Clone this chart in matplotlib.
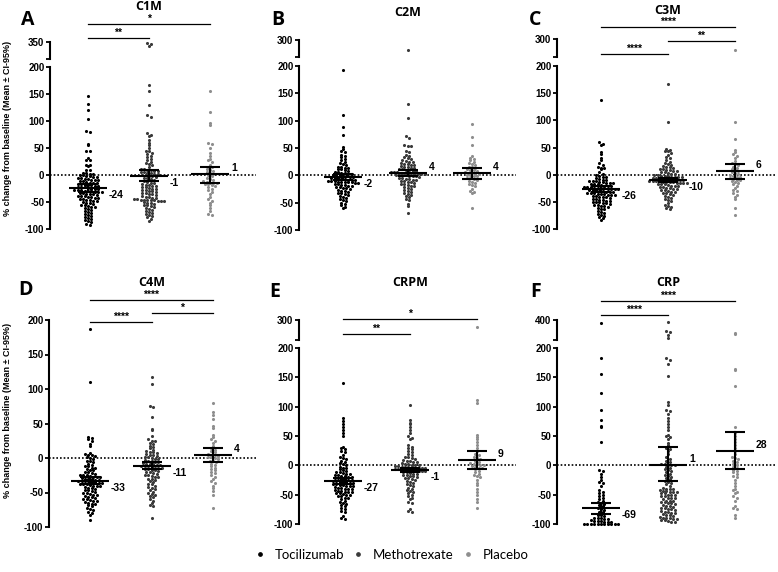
import numpy as np
import matplotlib
matplotlib.use('Agg')
import matplotlib.pyplot as plt
from matplotlib.lines import Line2D

W, H = 778, 572

groups = ['Tocilizumab', 'Methotrexate', 'Placebo']
colors = ['#000000', '#3a3a3a', '#8e8e8e']
titles = ['C1M', 'C2M', 'C3M', 'C4M', 'CRPM', 'CRP']
letters = ['A', 'B', 'C', 'D', 'E', 'F']
ylab = '% change from baseline (Mean \u00b1 CI-95%)'

# ---- % change values, one list per group ----
c1m_toc = [146, 131, 121, 103, 81, 79, 57, 56, 45, 44, 32, 28, 27, 19, 18, 16, 10, 9, 4, 3, 2, 1, 0, 0,
           -1, -2, -3, -4, -5, -6, -7, -8, -9, -10, -10, -11, -12, -13, -14, -14, -15, -16, -17, -18,
           -18, -19, -20, -21, -22, -22, -23, -24, -25, -25, -26, -27, -28, -28, -29, -30, -30, -31,
           -32, -32, -33, -34, -35, -35, -36, -37, -38, -38, -39, -40, -41, -42, -43, -44, -45, -46,
           -47, -48, -49, -50, -51, -52, -54, -55, -56, -58, -59, -60, -62, -63, -64, -66, -68, -70,
           -72, -74, -75, -77, -79, -81, -83, -85, -87, -90, -92]
c1m_mtx = [342, 339, 328, 166, 156, 130, 112, 108, 77, 75, 72, 64, 60, 55, 50, 45, 44, 41, 38, 35, 33,
           30, 28, 25, 22, 20, 18, 15, 12, 11, 10, 9, 8, 7, 6, 5, 4, 3, 2, 1, 0, 0, -1, -2, -3, -5, -6,
           -8, -10, -12, -13, -14, -15, -16, -18, -19, -20, -21, -22, -23, -24, -25, -26, -27, -28,
           -29, -30, -32, -33, -34, -35, -36, -37, -38, -40, -41, -42, -43, -44, -45, -46, -46, -47,
           -47, -47, -48, -48, -49, -50, -51, -52, -53, -55, -56, -58, -60, -62, -63, -65, -66, -68,
           -70, -72, -74, -76, -78, -81, -85]
c1m_pla = [155, 117, 97, 92, 60, 57, 50, 40, 35, 30, 27, 24, 18, 15, 14, 12, 10, 8, 5, 3, 1, 0, -2,
           -5, -8, -10, -12, -13, -14, -15, -15, -16, -17, -18, -20, -22, -25, -28, -32, -36, -40,
           -45, -48, -52, -55, -62, -66, -72, -74]

c2m_toc = [193, 110, 88, 73, 52, 48, 45, 42, 38, 35, 33, 30, 28, 25, 22, 20, 18, 16, 15, 14, 13, 12,
           11, 10, 8, 7, 6, 5, 4, 3, 2, 1, 0, 0, -1, -2, -3, -3, -4, -5, -5, -6, -7, -8, -8, -9, -10,
           -10, -11, -12, -12, -12, -13, -13, -14, -14, -15, -16, -17, -18, -19, -20, -21, -22, -23,
           -24, -25, -26, -28, -29, -30, -32, -33, -35, -36, -38, -40, -42, -44, -45, -47, -50, -52,
           -55, -58, -60]
c2m_mtx = [270, 131, 104, 72, 68, 55, 54, 53, 45, 42, 38, 36, 34, 32, 30, 28, 26, 25, 24, 22, 21, 20,
           19, 18, 17, 16, 15, 14, 13, 12, 11, 10, 9, 8, 8, 7, 6, 6, 5, 5, 4, 4, 3, 3, 2, 2, 1, 1, 0,
           0, -1, -2, -2, -3, -4, -5, -6, -7, -8, -9, -10, -11, -12, -13, -14, -15, -16, -18, -19,
           -20, -22, -24, -25, -27, -28, -30, -32, -34, -36, -38, -40, -43, -46, -52, -56, -68]
c2m_pla = [94, 70, 55, 35, 32, 30, 28, 25, 22, 20, 18, 16, 15, 14, 12, 10, 9, 8, 6, 5, 4, 3, 2, 1, 0,
           -1, -2, -4, -5, -6, -8, -10, -12, -14, -16, -18, -20, -25, -28, -30, -32, -60]

c3m_toc = [137, 61, 57, 54, 42, 38, 30, 27, 22, 17, 15, 13, 13, 10, 5, 2, 0, -2, -4, -5, -6, -8, -9,
           -10, -11, -12, -12, -13, -14, -15, -15, -16, -17, -18, -18, -19, -20, -20, -21, -22, -22,
           -23, -24, -24, -25, -25, -26, -26, -27, -27, -28, -28, -29, -30, -30, -31, -32, -32, -33,
           -34, -34, -35, -36, -36, -37, -38, -38, -39, -40, -41, -42, -42, -43, -44, -45, -46, -47,
           -48, -49, -50, -50, -51, -52, -53, -54, -55, -56, -57, -58, -60, -62, -63, -64, -66, -68,
           -70, -72, -74, -76, -78, -80, -83]
c3m_mtx = [167, 97, 47, 45, 44, 43, 40, 36, 33, 30, 27, 24, 22, 20, 18, 16, 15, 14, 12, 11, 10, 9, 8,
           7, 6, 5, 4, 3, 2, 1, 0, -1, -2, -2, -3, -4, -4, -5, -5, -6, -6, -7, -7, -8, -8, -9, -9,
           -10, -10, -11, -11, -12, -12, -13, -13, -14, -14, -15, -15, -16, -16, -17, -18, -18, -19,
           -20, -20, -21, -22, -23, -24, -25, -26, -27, -28, -29, -30, -31, -32, -33, -34, -35, -37,
           -39, -41, -43, -45, -47, -49, -52, -55, -58, -60, -62, -64]
c3m_pla = [270, 97, 65, 45, 42, 38, 35, 30, 25, 22, 20, 18, 15, 12, 10, 8, 6, 5, 3, 2, 0, -2, -4, -5,
           -6, -8, -9, -10, -12, -14, -16, -18, -20, -24, -28, -30, -34, -38, -42, -45, -62, -75]

c4m_toc = [187, 110, 30, 29, 28, 25, 20, 17, 7, 6, 5, 4, 3, 2, 0, -2, -4, -5, -6, -8, -10, -11, -12,
           -14, -15, -16, -17, -18, -20, -21, -22, -23, -24, -25, -25, -26, -27, -28, -28, -29, -30,
           -30, -31, -32, -32, -33, -33, -34, -34, -35, -35, -36, -36, -37, -37, -38, -39, -40, -40,
           -41, -42, -43, -44, -45, -46, -47, -48, -49, -50, -51, -52, -53, -54, -55, -56, -57, -58,
           -59, -60, -61, -62, -63, -64, -65, -66, -67, -68, -70, -72, -74, -76, -78, -80, -82, -90]
c4m_mtx = [118, 107, 76, 74, 60, 42, 40, 32, 28, 25, 24, 22, 20, 18, 16, 14, 12, 10, 9, 8, 7, 6, 5, 4,
           3, 2, 1, 0, -1, -2, -3, -4, -5, -6, -6, -7, -8, -8, -9, -10, -10, -11, -12, -12, -13, -14,
           -14, -15, -16, -16, -17, -18, -19, -20, -21, -22, -23, -24, -25, -26, -27, -28, -30, -31,
           -32, -34, -35, -37, -38, -40, -42, -44, -45, -47, -49, -50, -52, -54, -55, -57, -60, -62,
           -65, -68, -70, -87]
c4m_pla = [80, 66, 63, 57, 46, 43, 33, 30, 28, 25, 22, 18, 15, 12, 10, 8, 6, 5, 4, 3, 2, 1, 0, -2, -4,
           -5, -6, -8, -10, -12, -14, -16, -18, -20, -22, -25, -28, -30, -33, -36, -40, -43, -48, -53,
           -73]

crpm_toc = [140, 80, 75, 70, 65, 60, 55, 50, 32, 30, 28, 25, 22, 18, 15, 12, 10, 8, 6, 4, 2, 0, -2,
            -4, -5, -6, -8, -10, -11, -12, -13, -14, -15, -16, -17, -18, -19, -20, -20, -21, -22, -23,
            -24, -25, -25, -26, -27, -28, -28, -29, -30, -30, -31, -32, -33, -34, -35, -35, -36, -37,
            -38, -39, -40, -40, -41, -42, -43, -44, -45, -45, -46, -47, -48, -49, -50, -51, -52, -53,
            -55, -56, -58, -60, -62, -64, -66, -68, -70, -72, -74, -77, -80, -86, -90, -92]
crpm_mtx = [103, 77, 73, 70, 65, 60, 55, 50, 47, 45, 35, 32, 30, 28, 25, 22, 20, 18, 15, 14, 12, 10, 9,
            8, 7, 6, 5, 4, 3, 2, 1, 0, 0, -1, -1, -2, -2, -3, -3, -4, -4, -5, -5, -6, -6, -7, -7, -8,
            -8, -9, -9, -10, -10, -11, -12, -13, -14, -15, -16, -17, -18, -19, -20, -21, -22, -24,
            -25, -27, -28, -30, -32, -34, -36, -38, -40, -42, -44, -46, -48, -50, -52, -55, -58, -62,
            -65, -75, -78, -80]
crpm_pla = [282, 112, 106, 52, 48, 45, 40, 35, 30, 25, 20, 18, 15, 12, 10, 8, 6, 4, 3, 2, 1, 0, -1,
            -2, -4, -5, -7, -10, -12, -14, -16, -18, -20, -25, -30, -33, -40, -45, -50, -58, -62, -73]

crp_toc = [377, 183, 155, 124, 95, 78, 67, 66, 40, -8, -10, -15, -20, -25, -28, -30, -35, -42, -45,
           -48, -50, -52, -55, -58, -60, -62, -64, -66, -68, -70, -72, -74, -76, -79, -80, -84, -85,
           -86, -89, -90, -90, -91, -91, -94, -95, -95, -95, -96, -96, -96,
           -100, -100, -100, -100, -100, -100, -100, -100, -100, -100, -100]
crp_mtx = [385, 320, 310, 290, 262, 183, 180, 172, 152, 108, 103, 95, 92, 88, 80, 75, 70, 65, 60, 52,
           50, 48, 45, 38, 35, 30, 28, 25, 20, 15, 10, 8, 5, 3, 2, 1, 0, 0, -2, -4, -6, -8, -10, -12,
           -14, -16, -18, -20, -22, -24, -26, -28, -30, -32, -35, -38, -40, -40, -41, -42, -43, -44,
           -45, -45, -46, -47, -48, -50, -50, -51, -52, -53, -55, -55, -56, -58, -60, -60, -61, -62,
           -63, -65, -65, -66, -68, -70, -70, -71, -72, -73, -75, -75, -76, -78, -80, -80, -81, -82,
           -83, -85, -85, -86, -88, -90, -90, -90, -91, -92, -93, -94, -95, -96, -97]
crp_pla = [305, 295, 165, 162, 135, 66, 55, 50, 45, 40, 35, 30, 25, 20, 15, 12, 10, 8, 5, 3, 0, -2,
           -5, -8, -10, -12, -15, -18, -20, -25, -30, -35, -40, -42, -45, -48, -52, -55, -60, -70,
           -72, -75, -85, -90]

values = [
    [c1m_toc, c1m_mtx, c1m_pla],
    [c2m_toc, c2m_mtx, c2m_pla],
    [c3m_toc, c3m_mtx, c3m_pla],
    [c4m_toc, c4m_mtx, c4m_pla],
    [crpm_toc, crpm_mtx, crpm_pla],
    [crp_toc, crp_mtx, crp_pla],
]

# mean line, CI-95% ends, printed mean
means = [[-24, -1, 1], [-3, 4, 4], [-26, -10, 6], [-33, -11, 4], [-27, -8, 9], [-73, 1, 25]]
ci_lo = [[-32, -11, -14], [-9, -2, -6], [-31, -14, -8], [-38, -16, -6], [-32, -12, -6], [-83, -27, -7]]
ci_hi = [[-16, 10, 15], [3, 10, 14], [-21, -6, 19], [-28, -6, 14], [-22, -4, 24], [-65, 32, 57]]
mean_txt = [['-24', '-1', '1'], ['-2', '4', '4'], ['-26', '-10', '6'],
            ['-33', '-11', '4'], ['-27', '-1', '9'], ['-69', '1', '28']]

lower_ticks = [-100, -50, 0, 50, 100, 150, 200]
upper_lims = [(250, 350), (250, 300), (250, 300), None, (250, 300), (250, 400)]

# comparisons (group i, group j, stars), top bracket first
brackets = [
    [(0, 2, '*'), (0, 1, '**')],
    [],
    [(0, 2, '****'), (1, 2, '**'), (0, 1, '****')],
    [(0, 2, '****'), (1, 2, '*'), (0, 1, '****')],
    [(0, 2, '*'), (0, 1, '**')],
    [(0, 2, '****'), (0, 1, '****')],
]

# panel geometry in pixels
layout = [
    dict(left=50, right=256, g0=88, g2=210, lo=(67, 229), up=(42, 59), title_y=6, letter=(28, 20), by=[24, 38]),
    dict(left=299, right=516, g0=343, g2=472, lo=(66, 230), up=(40, 57), title_y=12, letter=(278, 20), by=[]),
    dict(left=557, right=777, g0=601, g2=735, lo=(66, 229), up=(39, 57), title_y=11, letter=(535, 20), by=[27, 41, 54]),
    dict(left=49, right=256, g0=90, g2=213, lo=(320, 527), up=None, title_y=282, letter=(25, 290), by=[300, 313, 322]),
    dict(left=299, right=516, g0=343, g2=477, lo=(348, 524), up=(320, 340), title_y=282, letter=(275, 292), by=[319, 334]),
    dict(left=557, right=777, g0=601, g2=735, lo=(348, 524), up=(320, 340), title_y=282, letter=(536, 292), by=[301, 315]),
]

TICKFONT = dict(family='Liberation Sans', weight='bold', size=7)
fig = plt.figure(figsize=(W / 100, H / 100), dpi=100)


def px_axes(left, right, top, bottom):
    return fig.add_axes([left / W, 1 - bottom / H, (right - left) / W, (bottom - top) / H])


def style(ax):
    for side in ['top', 'right', 'bottom']:
        ax.spines[side].set_visible(False)
    ax.spines['left'].set_linewidth(1.5)
    ax.set_xticks([])
    ax.tick_params(axis='y', direction='out', length=3, width=1.3, pad=1)
    ax.patch.set_alpha(0)


def fig_y(py):
    return 1 - py / H


for k in range(6):
    L = layout[k]
    s = (L['g2'] - L['g0']) / 2.0
    xlim = (-(L['g0'] - L['left']) / s, (L['right'] - L['g0']) / s)

    ax = px_axes(L['left'], L['right'], L['lo'][0], L['lo'][1])
    ax.set_xlim(xlim)
    ax.set_ylim(-100, 200)
    style(ax)
    ax.set_yticks(lower_ticks)
    ax.set_yticklabels([str(t) for t in lower_ticks], fontdict=TICKFONT)
    ax.axhline(0, color='k', lw=1.2, ls=(0, (1, 1.2)), zorder=1)

    axu = None
    if upper_lims[k] is not None:
        axu = px_axes(L['left'], L['right'], L['up'][0], L['up'][1])
        axu.set_xlim(xlim)
        axu.set_ylim(*upper_lims[k])
        style(axu)
        axu.set_yticks(list(upper_lims[k]))
        axu.set_yticklabels(['', str(upper_lims[k][1])], fontdict=TICKFONT)

    for i in range(3):
        v = np.array(values[k][i], dtype=float)
        top = v > 200
        pts = np.c_[np.zeros_like(v), v]
        py = ax.transData.transform(pts)[:, 1]
        if axu is not None and top.any():
            py[top] = axu.transData.transform(pts[top])[:, 1]
        # spread each 3-px row sideways like a scatter dot plot
        rows = np.round(py / 3.0)
        x = np.full(len(v), float(i))
        for r in np.unique(rows):
            idx = np.where(rows == r)[0]
            n = len(idx)
            x[idx] = i + (np.arange(n) - (n - 1) / 2.0) * 3.4 / s
        ax.scatter(x[~top], v[~top], s=5, color=colors[i], lw=0, zorder=3, clip_on=False)
        if axu is not None and top.any():
            axu.scatter(x[top], v[top], s=5, color=colors[i], lw=0, zorder=3, clip_on=False)

        m = means[k][i]
        hw, cw = 19 / s, 10 / s
        ax.plot([i - hw, i + hw], [m, m], color='k', lw=1.5, zorder=4, solid_capstyle='butt')
        ax.plot([i, i], [ci_lo[k][i], ci_hi[k][i]], color='k', lw=1.5, zorder=4)
        for c in (ci_lo[k][i], ci_hi[k][i]):
            ax.plot([i - cw, i + cw], [c, c], color='k', lw=1.5, zorder=4, solid_capstyle='butt')
        dy = -7 if mean_txt[k][i].startswith('-') else 6
        ax.annotate(mean_txt[k][i], (i + 21 / s, m), xytext=(0, dy * 0.72), textcoords='offset points',
                    ha='left', va='center', fontsize=7.5, fontweight='bold', family='Liberation Sans',
                    annotation_clip=False)

    # significance bars
    for (gi, gj, stars), byp in zip(brackets[k], L['by']):
        x0 = (L['g0'] + gi * s) / W
        x1 = (L['g0'] + gj * s) / W
        fig.add_artist(Line2D([x0, x1], [fig_y(byp), fig_y(byp)], color='k', lw=0.9,
                              transform=fig.transFigure))
        fig.text((x0 + x1) / 2, fig_y(byp - 0.5), stars, ha='center', va='bottom',
                 fontsize=7.5, fontweight='bold', family='Liberation Sans')

    fig.text((L['g0'] + s) / W, fig_y(L['title_y']), titles[k], ha='center', va='center',
             fontsize=9, fontweight='bold', family='Open Sans')
    fig.text(L['letter'][0] / W, fig_y(L['letter'][1]), letters[k], ha='center', va='center',
             fontsize=14, fontweight='bold', family='Open Sans')

fig.text(8 / W, fig_y(128), ylab, rotation=90, ha='center', va='center',
         fontsize=6.5, fontweight='bold', family='Liberation Sans')
fig.text(8 / W, fig_y(410), ylab, rotation=90, ha='center', va='center',
         fontsize=6.5, fontweight='bold', family='Liberation Sans')

handles = [Line2D([], [], ls='none', marker='o', ms=2.4, color=c, mec=c) for c in colors]
leg = fig.legend(handles, groups, loc='center', bbox_to_anchor=(391 / W, fig_y(555)), ncol=3,
                 frameon=False, handlelength=1.0, handletextpad=0.6, columnspacing=0.6,
                 prop=dict(family='Lato', size=9.5))

fig.savefig('out.png', dpi=100)
